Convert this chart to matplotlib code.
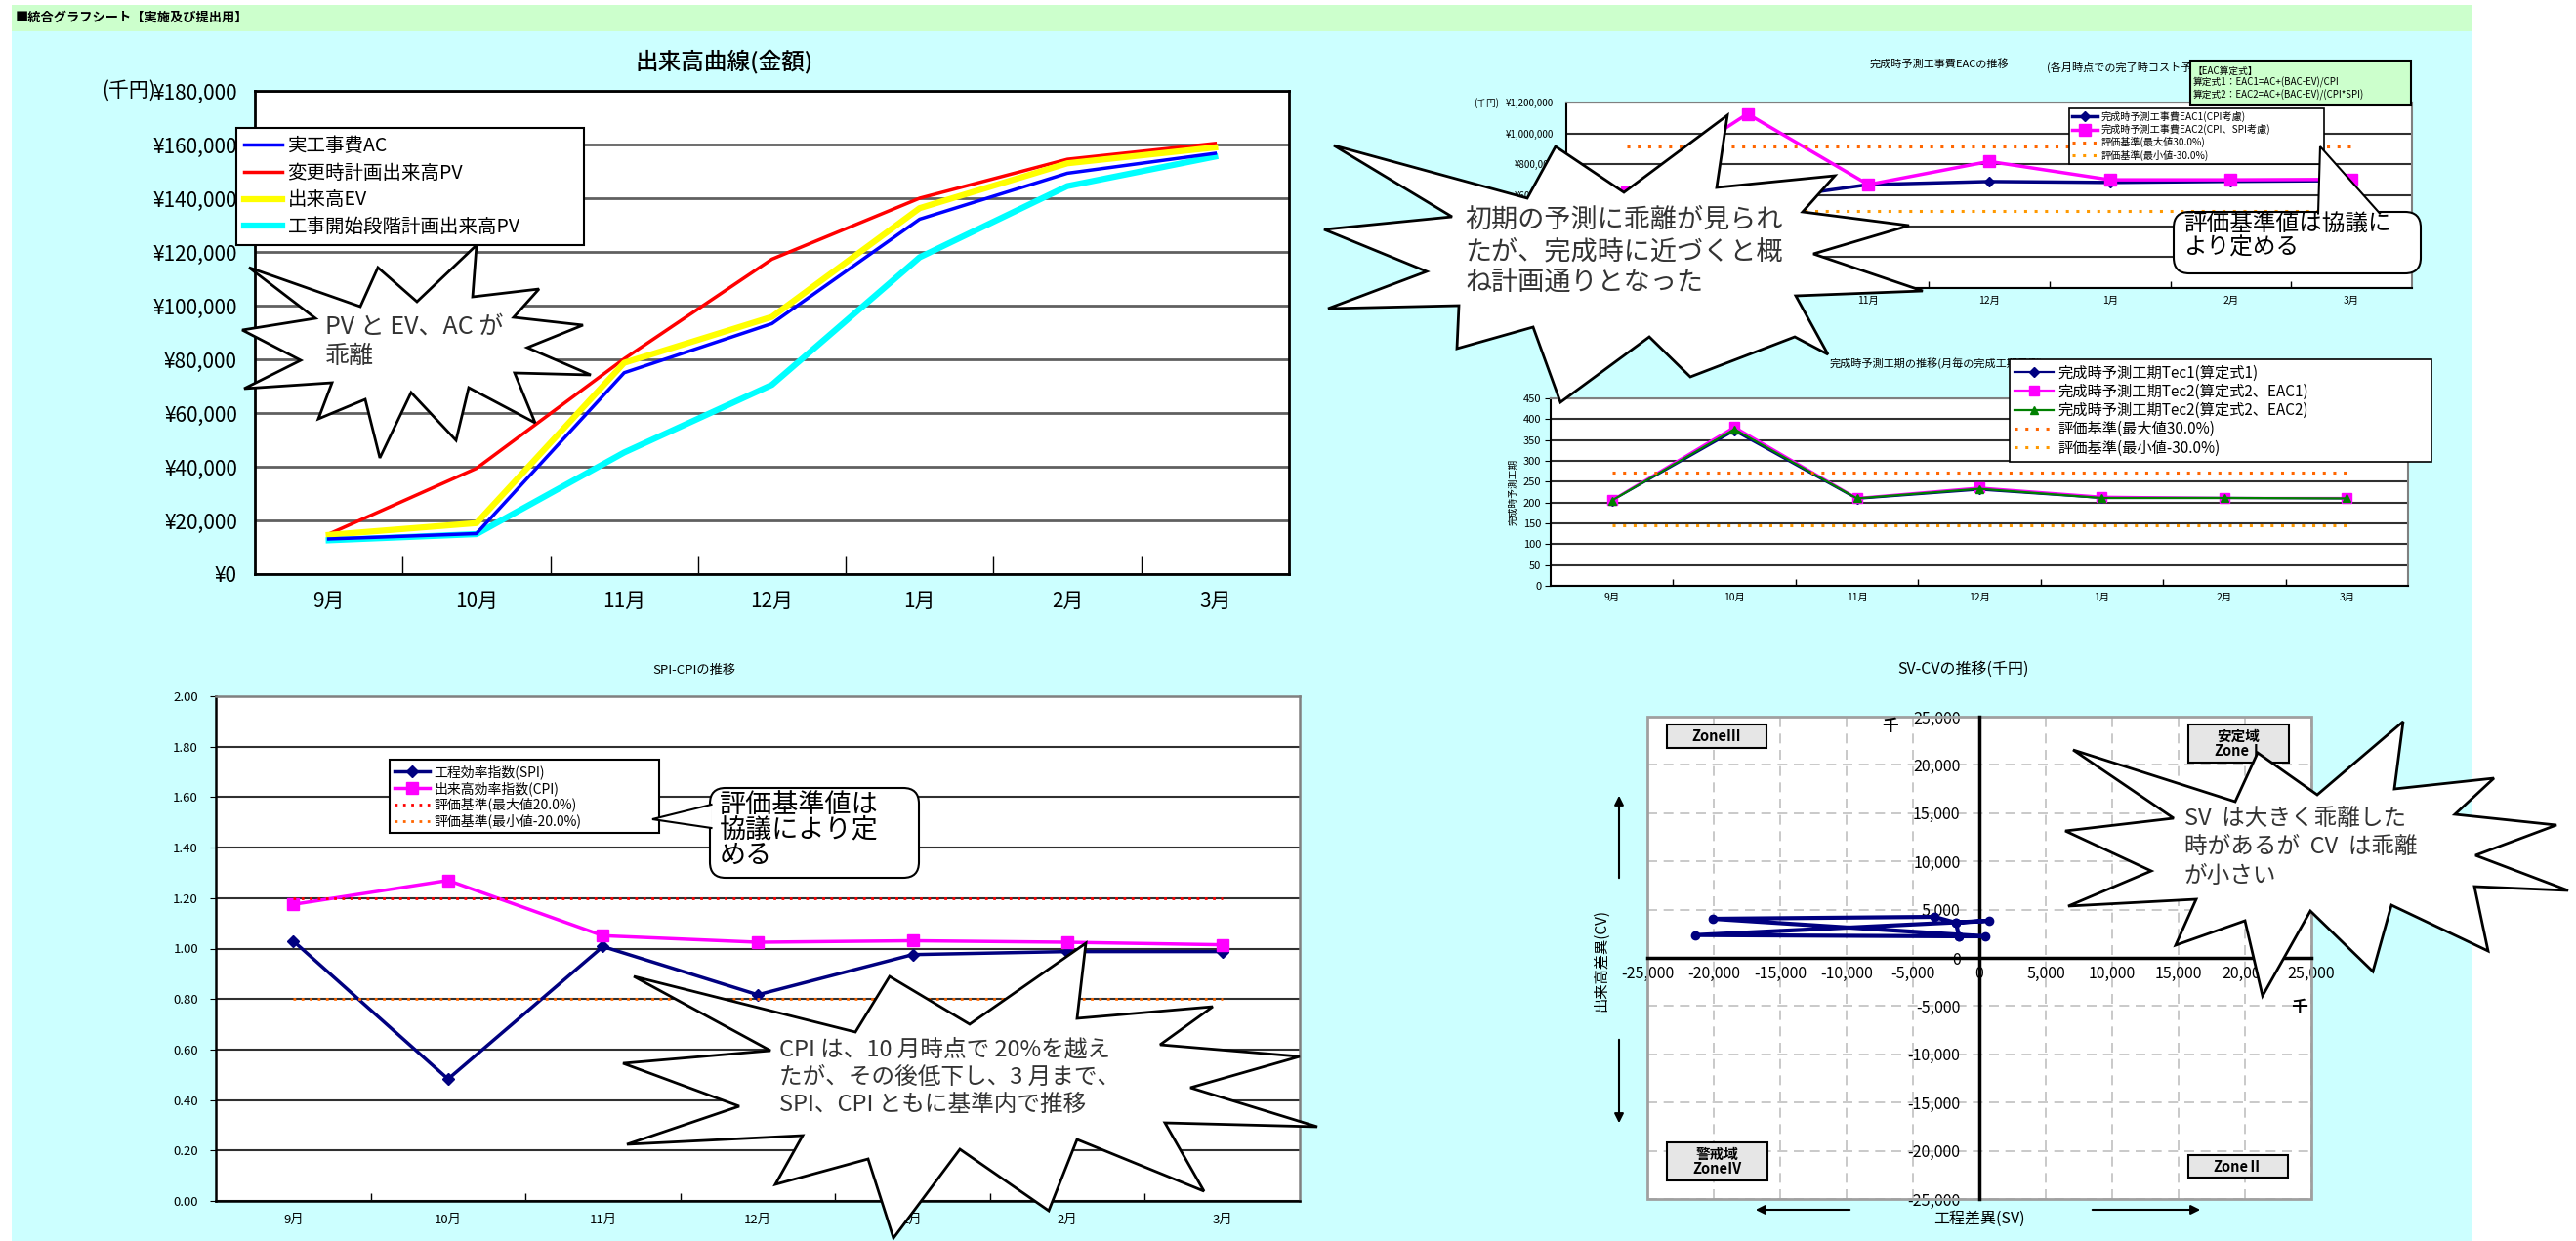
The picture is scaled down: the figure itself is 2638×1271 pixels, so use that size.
import numpy as np
import matplotlib
matplotlib.use('Agg')
import matplotlib.pyplot as plt
from matplotlib.patches import Polygon, Rectangle, FancyBboxPatch
from matplotlib.ticker import FuncFormatter, MultipleLocator

plt.rcParams['font.family'] = ['Noto Sans CJK JP', 'DejaVu Sans']

W, H = 2638, 1271

months = ['9月', '10月', '11月', '12月', '1月', '2月', '3月']

# 出来高曲線 (千円)
ac = [13100, 15100, 75000, 93300, 132200, 149300, 156700]
pv_changed = [14900, 39400, 80200, 117300, 140000, 154500, 160400]
ev = [14600, 19000, 78700, 95800, 136300, 153000, 158900]
pv_initial = [12600, 14900, 45300, 70500, 118000, 144500, 155500]

# 完成時予測工事費 EAC (千円)
eac1 = [600000, 560000, 669000, 689000, 683000, 690000, 695000]
eac2 = [620000, 1127000, 669000, 819000, 700000, 700000, 703000]
eac_max = 914000
eac_min = 496000

# 完成時予測工期
tec1 = [205, 372, 209, 231, 211, 211, 210]
tec2_eac1 = [206, 382, 211, 236, 214, 211, 211]
tec2_eac2 = [205, 376, 210, 233, 211, 211, 210]
tec_max = 272
tec_min = 146

# SPI / CPI
spi = [1.03, 0.483, 1.008, 0.817, 0.976, 0.988, 0.988]
cpi = [1.175, 1.27, 1.051, 1.025, 1.031, 1.025, 1.015]
idx_max = 1.2
idx_min = 0.8

# SV-CV (千円)
sv = [-1760, -3400, -20100, 440, -1540, -21400, 740, -1760, -1540]
cv = [3640, 4250, 4050, 2230, 2230, 2360, 3850, 3640, 2230]

NAVY = '#000080'
MAG = '#FF00FF'
ORANGE = '#FF6600'
ORANGE2 = '#FF9900'

fig = plt.figure(figsize=(W / 100, H / 100), dpi=100)


def px_axes(x0, y0, x1, y1, z=1):
    return fig.add_axes([x0 / W, 1 - y1 / H, (x1 - x0) / W, (y1 - y0) / H], zorder=z)


def fig_xy(x, y):
    return x / W, 1 - y / H


def month_axis(ax, fs, pad, minor_len):
    xs = np.arange(len(months))
    ax.set_xlim(-0.5, len(months) - 0.5)
    ax.set_xticks(xs)
    ax.set_xticklabels(months, fontsize=fs)
    ax.tick_params(axis='x', which='major', length=0, pad=pad)
    ax.set_xticks(np.arange(0.5, len(months) - 1, 1), minor=True)
    ax.tick_params(axis='x', which='minor', direction='in', length=minor_len, width=1)
    return xs


def box_legend(ax, x0, y0, x1, fs, spacing, hlen, lw=1.5, pad=0.4):
    leg = ax.legend(loc='upper left', bbox_to_anchor=(x0 / W, 1 - y0 / H, (x1 - x0) / W, 0),
                    bbox_transform=fig.transFigure, mode='expand', fontsize=fs,
                    fancybox=False, edgecolor='black', framealpha=1, borderaxespad=0,
                    labelspacing=spacing, handlelength=hlen, handletextpad=0.3, borderpad=pad)
    leg.get_frame().set_linewidth(lw)
    return leg


# background layers
bg = fig.add_axes([0, 0, 1, 1], zorder=-5)
bg.set_xlim(0, W)
bg.set_ylim(H, 0)
bg.axis('off')
bg.add_patch(Rectangle((12, 32), 2519, 1239, fc='#CCFFFF', ec='none'))
bg.add_patch(Rectangle((12, 5), 2519, 27, fc='#CCFFCC', ec='none'))
bg.text(16, 18, '■統合グラフシート【実施及び提出用】', fontsize=9.5, fontweight='bold', va='center')

# ---- 出来高曲線(金額) ----
ax1 = px_axes(261, 93, 1320, 588)
x = month_axis(ax1, 15, 12, 14)
ax1.plot(x, ac, color='#0000FF', lw=2.5, label='実工事費AC', zorder=4)
ax1.plot(x, pv_changed, color='#FF0000', lw=2.5, label='変更時計画出来高PV', zorder=3)
ax1.plot(x, ev, color='#FFFF00', lw=4.5, label='出来高EV', zorder=3)
ax1.plot(x, pv_initial, color='#00FFFF', lw=4.5, label='工事開始段階計画出来高PV', zorder=3)
ax1.set_ylim(0, 180000)
ax1.yaxis.set_major_locator(MultipleLocator(20000))
ax1.yaxis.set_major_formatter(FuncFormatter(lambda v, p: f'¥{v:,.0f}'))
ax1.tick_params(axis='y', length=0, pad=13, labelsize=15)
ax1.yaxis.grid(True, color='#606060', lw=2)
ax1.set_axisbelow(True)
for s in ax1.spines.values():
    s.set_linewidth(2)
box_legend(ax1, 242, 131, 598, 14, 0.35, 2.0)
ax1.text(*fig_xy(742, 63), '出来高曲線(金額)', transform=fig.transFigure, fontsize=17,
         ha='center', va='center', fontweight='medium')
ax1.text(*fig_xy(132, 93), '(千円)', transform=fig.transFigure, fontsize=15,
         ha='center', va='center')

# ---- 完成時予測工事費EACの推移 ----
ax2 = px_axes(1604, 105, 2470, 295)
x = month_axis(ax2, 7.5, 6, 5)
ax2.plot(x, eac1, color=NAVY, lw=2.5, marker='D', ms=5, label='完成時予測工事費EAC1(CPI考慮)')
ax2.plot(x, eac2, color=MAG, lw=2.5, marker='s', ms=8, label='完成時予測工事費EAC2(CPI、SPI考慮)')
ax2.plot([x[0], x[-1]], [eac_max, eac_max], color=ORANGE, lw=2.2, ls=(0, (1, 2.5)),
         label='評価基準(最大値30.0%)')
ax2.plot([x[0], x[-1]], [eac_min, eac_min], color=ORANGE2, lw=2.2, ls=(0, (1, 2.5)),
         label='評価基準(最小値-30.0%)')
ax2.set_ylim(0, 1200000)
ax2.yaxis.set_major_locator(MultipleLocator(200000))
ax2.yaxis.set_major_formatter(FuncFormatter(lambda v, p: f'¥{v:,.0f}'))
ax2.tick_params(axis='y', length=0, pad=9, labelsize=7)
ax2.yaxis.grid(True, color='#303030', lw=1.5)
ax2.set_axisbelow(True)
ax2.spines['top'].set_color('#808080')
ax2.spines['right'].set_color('#808080')
for s in ax2.spines.values():
    s.set_linewidth(1.5)
box_legend(ax2, 2119, 111, 2380, 7.3, 0.2, 2.6, lw=1.2, pad=0.3)
ax2.text(*fig_xy(1986, 65), '完成時予測工事費EACの推移', transform=fig.transFigure,
         fontsize=8, ha='center', va='center')
ax2.text(*fig_xy(2096, 69), '(各月時点での完了時コスト予測)', transform=fig.transFigure,
         fontsize=8, ha='left', va='center')
ax2.text(*fig_xy(1535, 106), '(千円)', transform=fig.transFigure, fontsize=7,
         ha='right', va='center')

# ---- 完成時予測工期の推移 ----
ax3 = px_axes(1588, 408, 2466, 600)
x = month_axis(ax3, 7.5, 5, 5)
ax3.plot(x, tec1, color=NAVY, lw=1.6, marker='D', ms=5, label='完成時予測工期Tec1(算定式1)')
ax3.plot(x, tec2_eac1, color=MAG, lw=1.6, marker='s', ms=7, label='完成時予測工期Tec2(算定式2、EAC1)')
ax3.plot(x, tec2_eac2, color='#008000', lw=1.6, marker='^', ms=6, label='完成時予測工期Tec2(算定式2、EAC2)')
ax3.plot([x[0], x[-1]], [tec_max, tec_max], color=ORANGE, lw=2.2, ls=(0, (1, 2.5)),
         label='評価基準(最大値30.0%)')
ax3.plot([x[0], x[-1]], [tec_min, tec_min], color=ORANGE2, lw=2.2, ls=(0, (1, 2.5)),
         label='評価基準(最小値-30.0%)')
ax3.set_ylim(0, 450)
ax3.yaxis.set_major_locator(MultipleLocator(50))
ax3.tick_params(axis='y', length=4, pad=3, labelsize=8)
ax3.yaxis.grid(True, color='#303030', lw=1.5)
ax3.set_axisbelow(True)
ax3.spines['top'].set_color('#808080')
ax3.spines['right'].set_color('#808080')
for s in ax3.spines.values():
    s.set_linewidth(1.5)
ax3.set_ylabel('完成時予測工期', fontsize=7, labelpad=4)
ax3.text(*fig_xy(1874, 372), '完成時予測工期の推移(月毎の完成工期予測)', transform=fig.transFigure,
         fontsize=8, ha='left', va='center', zorder=1)
box_legend(ax3, 2058, 368, 2490, 11, 0.15, 2.6, lw=1.2, pad=0.35)

# ---- SPI-CPIの推移 ----
ax4 = px_axes(221, 713, 1331, 1230)
x = month_axis(ax4, 9.5, 9, 6)
ax4.plot(x, spi, color=NAVY, lw=2.5, marker='D', ms=6, label='工程効率指数(SPI)')
ax4.plot(x, cpi, color=MAG, lw=2.5, marker='s', ms=9, label='出来高効率指数(CPI)')
ax4.plot([x[0], x[-1]], [idx_max, idx_max], color='#FF0000', lw=2, ls=(0, (1, 2)),
         label='評価基準(最大値20.0%)')
ax4.plot([x[0], x[-1]], [idx_min, idx_min], color=ORANGE, lw=2, ls=(0, (1, 2)),
         label='評価基準(最小値-20.0%)')
ax4.set_ylim(0, 2.0)
ax4.yaxis.set_major_locator(MultipleLocator(0.2))
ax4.yaxis.set_major_formatter(FuncFormatter(lambda v, p: f'{v:.2f}'))
ax4.tick_params(axis='y', length=4, pad=9, labelsize=9.5)
ax4.yaxis.grid(True, color='#303030', lw=1.5)
ax4.set_axisbelow(True)
ax4.spines['top'].set_color('#808080')
ax4.spines['right'].set_color('#808080')
for s in ax4.spines.values():
    s.set_linewidth(1.8)
box_legend(ax4, 399, 778, 675, 10, 0.15, 2.6, lw=1.5, pad=0.35)
ax4.text(*fig_xy(711, 686), 'SPI-CPIの推移', transform=fig.transFigure, fontsize=9.5,
         ha='center', va='center')

# ---- SV-CVの推移 ----
ax5 = px_axes(1687, 734, 2367, 1228)
ax5.plot(sv, cv, color=NAVY, lw=3, marker='o', ms=6, zorder=4)
ax5.set_xlim(-25000, 25000)
ax5.set_ylim(-25000, 25000)
ax5.xaxis.set_major_locator(MultipleLocator(5000))
ax5.yaxis.set_major_locator(MultipleLocator(5000))
fmt = FuncFormatter(lambda v, p: f'{v:,.0f}'.replace('−', '-'))
ax5.xaxis.set_major_formatter(fmt)
ax5.yaxis.set_major_formatter(fmt)
ax5.spines['left'].set_position(('data', 0))
ax5.spines['bottom'].set_position(('data', 0))
ax5.spines['top'].set_visible(False)
ax5.spines['right'].set_visible(False)
for s in ('left', 'bottom'):
    ax5.spines[s].set_linewidth(2.5)
    ax5.spines[s].set_zorder(3)
ax5.tick_params(axis='both', length=0, labelsize=11.5)
ax5.tick_params(axis='x', pad=6)
ax5.tick_params(axis='y', pad=14)
ax5.grid(True, color='#C0C0C0', lw=1.2, ls=(0, (6, 4)))
ax5.set_axisbelow(True)
ax5.add_patch(Rectangle((0, 0), 1, 1, transform=ax5.transAxes, fill=False,
                        ec='#A0A0A0', lw=2, clip_on=False, zorder=2))
ax5.text(*fig_xy(2011, 685), 'SV-CVの推移(千円)', transform=fig.transFigure, fontsize=11.5,
         ha='center', va='center')

# ---- overlay: notes, boxes, starbursts ----
ov = fig.add_axes([0, 0, 1, 1], zorder=10)
ov.set_xlim(0, W)
ov.set_ylim(H, 0)
ov.axis('off')

# SV-CV annotations
ov.text(1936, 744, '千', fontsize=12, fontweight='bold', ha='center', va='center')
ov.text(2355, 1032, '千', fontsize=12, fontweight='bold', ha='center', va='center')
ov.text(1640, 983, '出来高差異(CV)', fontsize=11, rotation=90, ha='center', va='center')
ov.text(2027, 1248, '工程差異(SV)', fontsize=11.5, ha='center', va='center')
arrow = dict(arrowstyle='-|>', color='black', lw=1.5, mutation_scale=14)
ov.annotate('', xy=(1658, 812), xytext=(1658, 902), arrowprops=arrow)
ov.annotate('', xy=(1658, 1153), xytext=(1658, 1062), arrowprops=arrow)
ov.annotate('', xy=(1795, 1239), xytext=(1897, 1239), arrowprops=arrow)
ov.annotate('', xy=(2256, 1239), xytext=(2140, 1239), arrowprops=arrow)

zones = [((1707, 742, 1809, 766), 'ZoneⅢ'),
         ((2241, 742, 2344, 781), '安定域\nZoneⅠ'),
         ((1707, 1170, 1810, 1209), '警戒域\nZoneⅣ'),
         ((2241, 1183, 2343, 1206), 'ZoneⅡ')]
for (zx0, zy0, zx1, zy1), label in zones:
    ov.add_patch(Rectangle((zx0, zy0), zx1 - zx0, zy1 - zy0, fc='#E6E6E6', ec='black',
                           lw=1.5, zorder=1))
    ov.text((zx0 + zx1) / 2, (zy0 + zy1) / 2, label, fontsize=10.5, fontweight='bold',
            ha='center', va='center', linespacing=1.0, zorder=2)

# EAC formula box
ov.add_patch(Rectangle((2243, 62), 226, 46, fc='#CCFFCC', ec='black', lw=1.5, zorder=1))
ov.text(2246, 85, '【EAC算定式】\n算定式1：EAC1=AC+(BAC-EV)/CPI\n算定式2：EAC2=AC+(BAC-EV)/(CPI*SPI)',
        fontsize=7, ha='left', va='center', linespacing=1.15, zorder=2)


def callout(bx0, by0, bx1, by1, tip, base1, base2, text, tx, ty, fs, ls):
    ov.add_patch(FancyBboxPatch((bx0, by0), bx1 - bx0, by1 - by0,
                                boxstyle='round,pad=0,rounding_size=16',
                                fc='white', ec='black', lw=1.5, zorder=3))
    ov.add_patch(Polygon([base1, tip, base2], closed=True, fc='white', ec='none', zorder=4))
    ov.plot([base1[0], tip[0], base2[0]], [base1[1], tip[1], base2[1]], color='black',
            lw=1.5, zorder=5, solid_joinstyle='miter')
    ov.text(tx, ty, text, fontsize=fs, ha='left', va='top', linespacing=ls, zorder=6)


callout(2226, 217, 2479, 280, (2376, 150), (2374, 218.5), (2437, 218.5),
        '評価基準値は協議に\nより定める', 2236, 219, 17, 1.05)
callout(727, 807, 941, 899, (668, 839), (728.5, 824), (728.5, 848),
        '評価基準値は\n協議により定\nめる', 737, 811, 19.5, 0.95)

star1 = [(255, 274), (323, 326), (248, 338), (308, 369), (250, 398), (340, 392), (326, 429),
         (374, 409), (389, 469), (421, 402), (467, 451), (480, 397), (548, 433), (527, 382),
         (605, 384), (540, 356), (597, 333), (526, 325), (552, 296), (484, 304), (488, 251),
         (427, 309), (387, 274), (369, 314)]
star2 = [(1769, 118), (1758, 192), (1879, 180), (1846, 217), (1955, 231), (1857, 260),
         (1969, 298), (1839, 303), (1872, 363), (1838, 345), (1731, 386), (1689, 345),
         (1598, 412), (1570, 335), (1492, 357), (1494, 313), (1360, 316), (1461, 278),
         (1356, 235), (1487, 222), (1366, 149), (1564, 203), (1593, 150), (1663, 197)]
star3 = [(649, 1000), (789, 1076), (638, 1089), (757, 1133), (642, 1172), (822, 1163),
         (794, 1213), (889, 1187), (915, 1268), (983, 1177), (1074, 1240), (1103, 1167),
         (1233, 1220), (1193, 1150), (1349, 1154), (1219, 1114), (1331, 1082), (1188, 1070),
         (1242, 1031), (1103, 1043), (1112, 966), (993, 1049), (911, 1000), (876, 1057)]
star4 = [(2123, 768), (2226, 838), (2115, 851), (2203, 892), (2118, 928), (2249, 921),
         (2228, 968), (2299, 943), (2317, 1020), (2366, 933), (2430, 995), (2449, 927),
         (2548, 974), (2534, 908), (2630, 912), (2535, 876), (2618, 845), (2514, 834),
         (2554, 797), (2452, 808), (2461, 739), (2373, 814), (2312, 771), (2289, 821)]
for pts in (star1, star2, star3, star4):
    ov.add_patch(Polygon(pts, closed=True, fc='white', ec='black', lw=2, zorder=7,
                         joinstyle='miter'))

ov.text(333, 322, 'PV と EV、AC が\n乖離', fontsize=18, ha='left', va='top',
        linespacing=1.2, color='#333333', zorder=8)
ov.text(1500, 212, '初期の予測に乖離が見られ\nたが、完成時に近づくと概\nね計画通りとなった',
        fontsize=19.5, ha='left', va='top', linespacing=1.25, color='#333333', zorder=8)
ov.text(798, 1063, 'CPI は、10 月時点で 20%を越え\nたが、その後低下し、3 月まで、\nSPI、CPI ともに基準内で推移',
        fontsize=17, ha='left', va='top', linespacing=1.3, color='#333333', zorder=8)
ov.text(2237, 827, 'SV  は大きく乖離した\n時があるが  CV  は乖離\nが小さい',
        fontsize=17, ha='left', va='top', linespacing=1.35, color='#333333', zorder=8)

fig.savefig('out.png', dpi=100)
